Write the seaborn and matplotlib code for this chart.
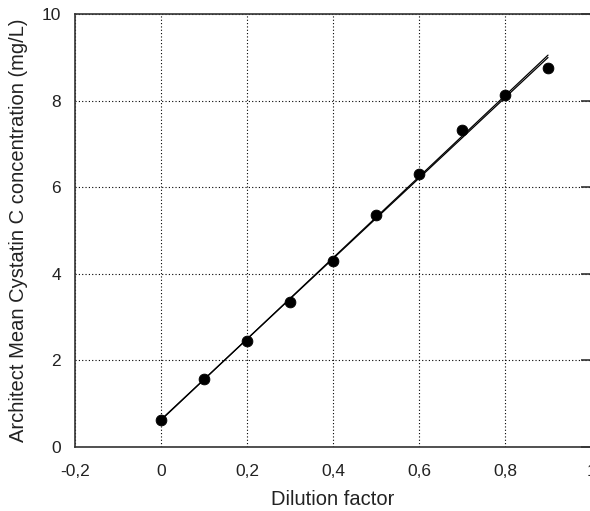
import numpy as np
import pandas as pd
import matplotlib
matplotlib.use("Agg")
import matplotlib.pyplot as plt
import seaborn as sns

# Data
dilution = [0.0, 0.1, 0.2, 0.3, 0.4, 0.5, 0.6, 0.7, 0.8, 0.9]
concentration = [0.62, 1.57, 2.45, 3.35, 4.30, 5.35, 6.30, 7.33, 8.12, 8.75]
# expected (theoretical) line values at dilution ends
expected_x = [0.0, 0.9]
expected_y = [0.62, 9.05]

x_ticks = [-0.2, 0.0, 0.2, 0.4, 0.6, 0.8, 1.0]
x_tick_labels = ["-0,2", "0", "0,2", "0,4", "0,6", "0,8", "1"]
y_ticks = [0, 2, 4, 6, 8, 10]
y_tick_labels = ["0", "2", "4", "6", "8", "10"]

sns.set_style("white")
plt.rcParams["font.family"] = ["Liberation Sans", "DejaVu Sans"]

fig = plt.figure(figsize=(5.9, 5.11), dpi=100)
ax = fig.add_axes([75 / 590, 64 / 511, 516 / 590, 433 / 511])

df = pd.DataFrame({"x": dilution, "y": concentration})

# regression line
slope, intercept = np.polyfit(dilution, concentration, 1)
fit_df = pd.DataFrame({"x": [dilution[0], dilution[-1]]})
fit_df["y"] = intercept + slope * fit_df["x"]
sns.lineplot(data=fit_df, x="x", y="y", ax=ax, color="black", lw=0.9)

# expected line
exp_df = pd.DataFrame({"x": expected_x, "y": expected_y})
sns.lineplot(data=exp_df, x="x", y="y", ax=ax, color="black", lw=0.9)

sns.scatterplot(data=df, x="x", y="y", ax=ax, color="black", s=60,
                edgecolor="black", zorder=5)

ax.set_xlim(-0.2, 1.0)
ax.set_ylim(0, 10)
ax.set_xticks(x_ticks)
ax.set_xticklabels(x_tick_labels)
ax.set_yticks(y_ticks)
ax.set_yticklabels(y_tick_labels)

ax.grid(True, color="black", linestyle=(0, (1, 2)), linewidth=0.8)
ax.set_axisbelow(True)

for side in ["left", "bottom", "top", "right"]:
    ax.spines[side].set_visible(True)
    ax.spines[side].set_color("#333333")
    ax.spines[side].set_linewidth(1.2)

ax.tick_params(axis="both", direction="in", length=7, width=1.2,
               color="#333333", labelsize=12.5, colors="#222222")
ax.tick_params(axis="x", pad=12)
ax.tick_params(axis="y", pad=10, right=True)

ax.set_xlabel("Dilution factor", fontsize=14.5, color="#222222", labelpad=8)
ax.set_ylabel("Architect Mean Cystatin C concentration (mg/L)", fontsize=14.5,
              color="#222222", labelpad=10)

fig.savefig("out.png", dpi=100)
